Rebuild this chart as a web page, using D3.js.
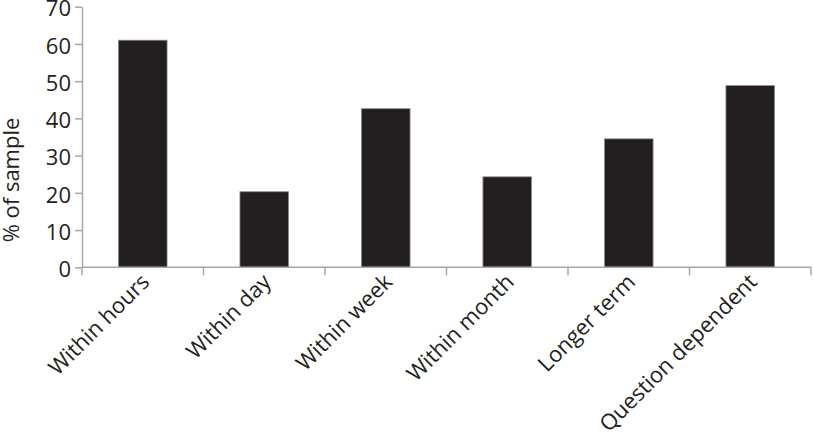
<!DOCTYPE html>
<html>
<head>
<meta charset="utf-8">
<script src="https://cdn.jsdelivr.net/npm/d3@7/dist/d3.min.js"></script>
<style>
  html, body { margin: 0; padding: 0; background: #fff; }
  svg { display: block; }
  text { font-family: "Open Sans", "Noto Sans", sans-serif; fill: #231f20; }
</style>
</head>
<body>
<svg id="chart" width="813" height="434"></svg>
<script>
const categories = ["Within hours", "Within day", "Within week", "Within month", "Longer term", "Question dependent"];
const values = [61.0, 20.3, 42.6, 24.3, 34.5, 48.8];
const yTicks = [0, 10, 20, 30, 40, 50, 60, 70];
const yTitle = "% of sample";

const svg = d3.select("#chart");
const mLeft = 82, mRight = 811, mTop = 6.7, mBottom = 267.3;
const axisColor = "#a6a6a6";
const fontSize = "22px";

const x = d3.scaleBand().domain(categories).range([mLeft, mRight]).paddingInner(0.6).paddingOuter(0.3);
const y = d3.scaleLinear().domain([0, 70]).range([mBottom, mTop]);

// bars
svg.append("g").selectAll("rect").data(values).join("rect")
  .attr("x", (d, i) => x(categories[i]))
  .attr("y", d => y(d))
  .attr("width", x.bandwidth())
  .attr("height", d => y(0) - y(d))
  .attr("fill", "#231f20")
  .attr("stroke", "#8a8a8a")
  .attr("stroke-width", 0.8);

// y axis
const yAxis = svg.append("g").attr("transform", `translate(${mLeft},0)`)
  .call(d3.axisLeft(y).tickValues(yTicks).tickSize(7).tickPadding(4).tickSizeOuter(0));
yAxis.select(".domain").attr("stroke", axisColor).attr("stroke-width", 1.5);
yAxis.selectAll(".tick line").attr("stroke", axisColor).attr("stroke-width", 1.5);
yAxis.selectAll(".tick text").style("font-size", fontSize).attr("fill", "#231f20")
  .attr("dy", "0.42em")
  .style("font-family", "'Open Sans', 'Noto Sans', sans-serif");

// x axis: ticks at band boundaries
const xg = svg.append("g");
xg.append("line").attr("x1", mLeft).attr("x2", mRight).attr("y1", mBottom).attr("y2", mBottom)
  .attr("stroke", axisColor).attr("stroke-width", 1.5);
const step = x.step();
const bounds = d3.range(categories.length + 1).map(i => mLeft + i * step);
xg.selectAll("line.tk").data(bounds).join("line").attr("class", "tk")
  .attr("x1", d => d).attr("x2", d => d).attr("y1", mBottom).attr("y2", mBottom + 8)
  .attr("stroke", axisColor).attr("stroke-width", 1.5);

xg.selectAll("text.lbl").data(categories).join("text").attr("class", "lbl")
  .attr("transform", d => `translate(${x(d) + x.bandwidth() / 2 + 8},${mBottom + 16}) rotate(-45)`)
  .attr("text-anchor", "end")
  .style("font-size", fontSize)
  .text(d => d);

// y title
svg.append("text")
  .attr("transform", `translate(19,${(mTop + mBottom) / 2 + 43}) rotate(-90)`)
  .attr("text-anchor", "middle")
  .style("font-size", fontSize)
  .text(yTitle);
</script>
</body>
</html>
